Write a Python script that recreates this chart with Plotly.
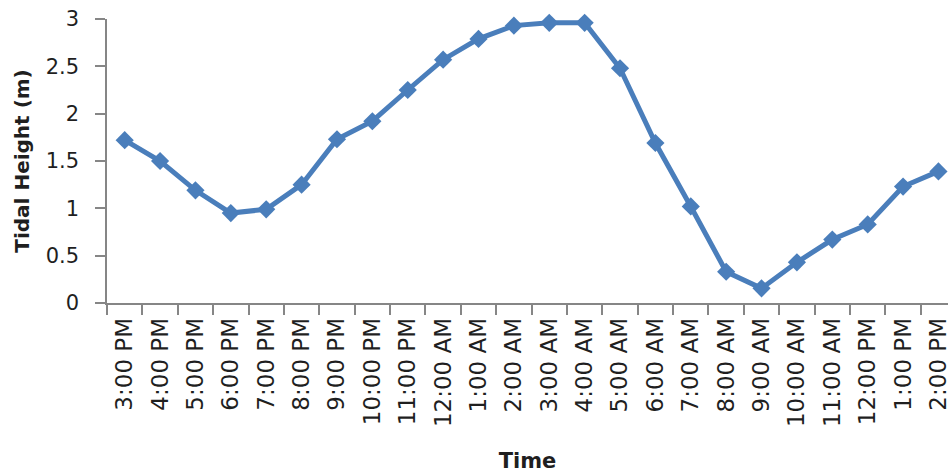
import plotly.graph_objects as go

# Hourly tide readings, 3 PM through 2 PM the next day
times = ["3:00 PM", "4:00 PM", "5:00 PM", "6:00 PM", "7:00 PM", "8:00 PM",
         "9:00 PM", "10:00 PM", "11:00 PM", "12:00 AM", "1:00 AM", "2:00 AM",
         "3:00 AM", "4:00 AM", "5:00 AM", "6:00 AM", "7:00 AM", "8:00 AM",
         "9:00 AM", "10:00 AM", "11:00 AM", "12:00 PM", "1:00 PM", "2:00 PM"]
heights = [1.72, 1.50, 1.19, 0.95, 0.99, 1.25,
           1.73, 1.92, 2.25, 2.57, 2.79, 2.93,
           2.96, 2.96, 2.48, 1.69, 1.02, 0.33,
           0.155, 0.43, 0.67, 0.83, 1.23, 1.39]
y_ticks = [0, 0.5, 1, 1.5, 2, 2.5, 3]
y_tick_text = ["0", "0.5", "1", "1.5", "2", "2.5", "3"]

blue = "#4A7EBB"
axis_grey = "#868686"
text_col = "#1f1f1f"

fig = go.Figure(
    go.Scatter(
        x=times,
        y=heights,
        mode="lines+markers",
        line=dict(color=blue, width=5),
        marker=dict(symbol="diamond", size=14, color=blue),
        cliponaxis=False,
        hoverinfo="x+y",
    )
)

fig.update_layout(
    width=951,
    height=474,
    margin=dict(l=107, r=0, t=19, b=171),
    paper_bgcolor="white",
    plot_bgcolor="white",
    showlegend=False,
    font=dict(family="DejaVu Sans", color=text_col),
)

fig.update_xaxes(
    type="category",
    range=[-0.5, 23.27],
    tickson="boundaries",
    ticks="outside",
    ticklen=10,
    tickwidth=1.5,
    tickcolor=axis_grey,
    showline=True,
    linecolor=axis_grey,
    linewidth=1.5,
    showgrid=False,
    zeroline=False,
    tickangle=-90,
    tickfont=dict(size=23, color=text_col),
    ticklabelstandoff=4,
    title=dict(text="<b>Time</b>", font=dict(size=21, color=text_col), standoff=27),
)

fig.update_yaxes(
    range=[0, 3],
    tickvals=y_ticks,
    ticktext=y_tick_text,
    ticks="outside",
    ticklen=10,
    tickwidth=1.5,
    tickcolor=axis_grey,
    showline=True,
    linecolor=axis_grey,
    linewidth=1.5,
    showgrid=False,
    zeroline=False,
    tickfont=dict(size=21, color=text_col),
    ticklabelstandoff=12,
    title=dict(text="<b>Tidal Height (m)</b>", font=dict(size=20, color=text_col), standoff=11),
)

fig.write_html("out.html")
